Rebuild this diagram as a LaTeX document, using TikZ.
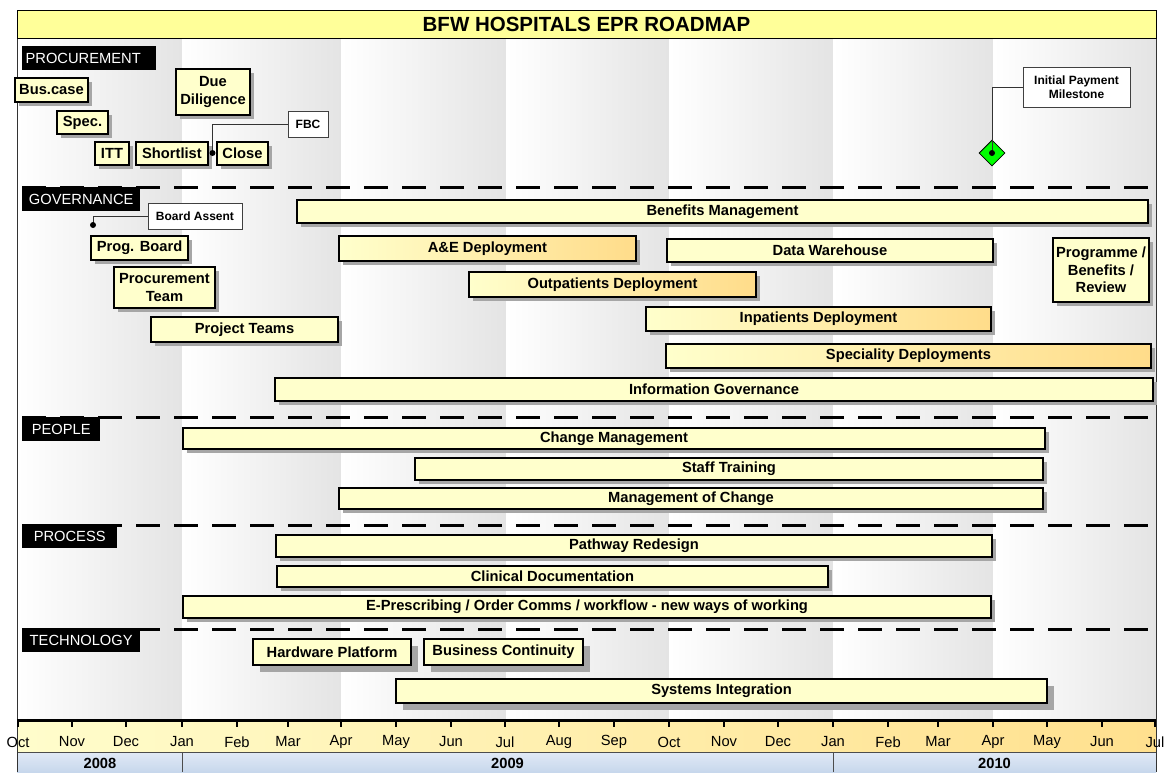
\documentclass[tikz,border=0pt]{standalone}
\usepackage{fontspec}
\setmainfont{Liberation Sans}
\usetikzlibrary{shapes.geometric,shadows}
\definecolor{barfill}{HTML}{FFFFCC}
\definecolor{barorange}{HTML}{FFDC8A}
\definecolor{titlefill}{HTML}{FFFF99}
\definecolor{shadowgray}{HTML}{A6A6A6}
\definecolor{colgray}{HTML}{E4E4E4}
\definecolor{yearA}{HTML}{E0E9F5}
\definecolor{yearB}{HTML}{C3D4EA}
\definecolor{axisA}{HTML}{FFFDCC}
\definecolor{axisB}{HTML}{FFE08E}
\definecolor{msgreen}{HTML}{00FF00}
\newcommand\gbar[7][bar]{\node[#1,minimum width={(#5-#3)*1pt},minimum height={(#6-#4)*1pt}] (#2) at ({(#3+#5)/2},{(#4+#6)/2}) {#7};}
\begin{document}
\begin{tikzpicture}[x=1pt,y=-1pt,
  barbase/.style={draw=black, line width=1.6pt, fill=barfill, inner sep=0pt, outer sep=0pt, align=center,
    font=\fontsize{14.7}{17.5}\selectfont\bfseries},
  bar/.style={barbase, drop shadow={shadow xshift=4pt, shadow yshift=-4pt, fill=shadowgray, opacity=1}},
  techbar/.style={barbase, drop shadow={shadow xshift=7pt, shadow yshift=-7pt, fill=shadowgray, opacity=1}},
  grad/.style={left color=barfill, right color=barorange},
  callout/.style={draw=black!75, line width=0.8pt, fill=white, inner sep=0pt, align=center,
    font=\fontsize{12}{14}\selectfont\bfseries},
  sect/.style={fill=black, text=white, inner sep=0pt, font=\fontsize{14.7}{17}\selectfont,
    minimum height=24pt, anchor=north west},
  sepline/.style={line width=3pt, dash pattern=on 24pt off 14pt},
  conn/.style={line width=0.9pt, draw=black!80},
  dot/.style={circle, fill=black, inner sep=0pt, minimum size=6pt},
  month/.style={font=\fontsize{14.7}{17}\selectfont, inner sep=0pt},
  year/.style={font=\fontsize{14.7}{17}\selectfont\bfseries, inner sep=0pt},
  tick/.style={line width=1.5pt}
]
\useasboundingbox (0,0) rectangle (1175,772);
\fill[white] (0,0) rectangle (1175,772);
% quarter columns
\foreach \a/\b in {17/182,182/341,341/506,506/669,669/833,833/993,993/1156}{
  \shade[left color=white, right color=colgray] (\a,38) rectangle (\b,720);
}
% frame
\draw[line width=1pt, black!80] (17,10) -- (17,772);
\draw[line width=1pt, black!80] (1156,10) -- (1156,772);
% title
\node[draw=black, line width=0.8pt, fill=titlefill, minimum width=1139pt, minimum height=28pt, inner sep=0pt,
  font=\fontsize{20.5}{24}\selectfont\bfseries] (title) at (586.5,24) {BFW HOSPITALS EPR ROADMAP};
% separators
\draw[sepline] (22,187) -- (1156,187);
\draw[sepline] (22,417) -- (1156,417);
\draw[sepline] (22,525) -- (1156,525);
\draw[sepline] (22,629) -- (1156,629);
% section headers
\node[sect, minimum width=134pt] (sproc) at (22,46) {PROCUREMENT\hspace*{12pt}};
\node[sect, minimum width=118pt] (sgov) at (22,187) {GOVERNANCE};
\node[sect, minimum width=78pt] (speople) at (22,417) {PEOPLE};
\node[sect, minimum width=95pt] (sprocess) at (22,524) {PROCESS};
\node[sect, minimum width=118pt] (stech) at (22,628) {TECHNOLOGY};
% procurement
\gbar{buscase}{15}{78}{88}{102}{Bus.case}
\gbar{spec}{57}{111}{108}{134}{Spec.}
\gbar{itt}{95}{142}{129}{165}{ITT}
\gbar{shortlist}{136}{142}{208}{165}{Shortlist}
\gbar{close}{217}{142}{268}{165}{Close}
\gbar{due}{176}{69}{250}{115}{Due\\Diligence}
\node[callout, minimum width=40pt, minimum height=26pt] (fbc) at (308,124) {FBC};
\coordinate (fbcdot) at (212.5,153);
\draw[conn] (fbcdot) |- (fbc.west);
\node[dot] (fbcd) at (fbcdot) {};
\node[callout, minimum width=107pt, minimum height=40pt] (ipm) at (1076.5,87) {Initial Payment\\Milestone};
\node[diamond, draw=black, line width=0.8pt, fill=msgreen, minimum width=26pt, minimum height=26pt, inner sep=0pt] (ms) at (992,153) {};
\draw[conn] (ms.center) |- (ipm.west);
\node[dot] (msd) at (ms.center) {};
% governance
\node[callout, minimum width=94pt, minimum height=26pt] (board) at (195,216) {Board Assent};
\coordinate (bdot) at (93,225);
\draw[conn] (bdot) |- (board.west);
\node[dot] (bd) at (bdot) {};
\gbar{progb}{91}{236}{188}{260}{Prog. Board}
\gbar{procteam}{114}{267}{215}{308}{Procurement\\Team}
\gbar{projteams}{151}{317}{338}{342}{Project Teams}
\gbar{benefits}{297}{200}{1148}{223}{Benefits Management}
\gbar[bar,grad]{ae}{339}{236}{636}{261}{A\&E Deployment}
\gbar{dw}{667}{239}{993}{262}{Data Warehouse}
\gbar{review}{1053}{238}{1149}{302}{Programme /\\Benefits /\\Review}
\gbar[bar,grad]{outp}{469}{272}{756}{297}{Outpatients Deployment}
\gbar[bar,grad]{inp}{646}{307}{991}{331}{Inpatients Deployment}
\gbar[bar,grad]{spec2}{666}{344}{1151}{368}{Speciality Deployments}
\gbar{infogov}{275}{378}{1153}{401}{Information Governance}
% people
\gbar{changem}{183}{428}{1045}{449}{Change Management}
\gbar{staff}{415}{458}{1043}{480}{Staff Training}
\gbar{moc}{339}{488}{1043}{509}{Management of Change}
% process
\gbar{pathway}{276}{535}{992}{557}{Pathway Redesign}
\gbar{clindoc}{277}{566}{828}{587}{Clinical Documentation}
\gbar{epres}{183}{596}{991}{618}{E-Prescribing / Order Comms / workflow - new ways of working}
% technology
\gbar[techbar]{hw}{253}{639}{411}{665}{Hardware Platform}
\gbar[techbar]{bc}{424}{639}{583}{665}{Business Continuity}
\gbar[techbar]{sysint}{396}{679}{1047}{703}{Systems Integration}
% time axis
\shade[left color=axisA, right color=axisB] (17,720) rectangle (1156,752);
\draw[line width=0.8pt, black!70] (17,752) -- (1156,752);
\shade[top color=yearA, bottom color=yearB] (17,753) rectangle (1156,775);
\draw[line width=0.8pt, black!70] (182,753) -- (182,772);
\draw[line width=0.8pt, black!70] (833,753) -- (833,772);
\draw[line width=1pt, black!80] (17,720) -- (17,772);
\draw[line width=1pt, black!80] (1156,720) -- (1156,772);
\draw[line width=3pt] (17,720) -- (1156,720);
\foreach \x/\m [count=\i] in {18/Oct,72/Nov,126/Dec,182/Jan,237/Feb,288/Mar,341/Apr,396/May,451/Jun,505/Jul,559/Aug,614/Sep,669/Oct,724/Nov,778/Dec,833/Jan,888/Feb,938/Mar,993/Apr,1047/May,1102/Jun,1155/Jul}{
  \draw[tick] (\x,720) -- (\x,727);
  \node[month] (m\i) at (\x,742) {\m};
}
\node[year] (y2008) at (100,763) {2008};
\node[year] (y2009) at (507.5,763) {2009};
\node[year] (y2010) at (994.5,763) {2010};
\end{tikzpicture}
\end{document}
